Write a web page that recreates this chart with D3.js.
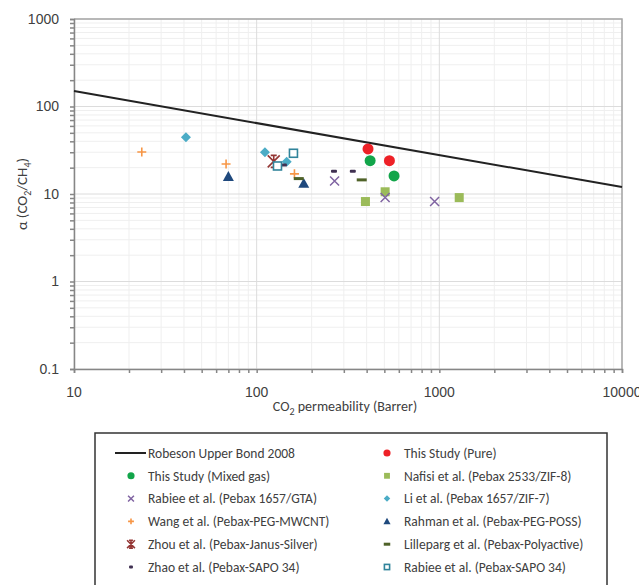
<!DOCTYPE html>
<html>
<head>
<meta charset="utf-8">
<script src="https://cdn.jsdelivr.net/npm/d3@7"></script>
<style>
  body { margin: 0; background: #fff; }
  svg { font-family: Calibri, Carlito, "Open Sans", sans-serif; }
</style>
</head>
<body>
<svg id="chart" width="639" height="585"></svg>
<script>
// axis tick values
const xTicks = [10, 100, 1000, 10000]
const yTicks = [0.1, 1, 10, 100, 1000]

// Robeson upper bound 2008, endpoints
const robeson = [[10, 150], [10000, 12]]

// [CO2 permeability, selectivity]
const thisPure = [[407, 32.7], [533, 24]]
const thisMixed = [[418, 24], [565, 16.1]]
const nafisi = [[394, 8.2], [505, 10.6], [1285, 9.1]]
const rabieeGTA = [[267, 14.1], [505, 9.1], [942, 8.2]]
const liZIF7 = [[41, 44.5], [111, 30], [146, 23.4]]
const wang = [[23.5, 30.2], [68, 22], [161, 17]]
const rahman = [[70, 15.8], [181, 13.2]]
const zhou = [[124, 23.6]]
const lilleparg = [[170, 15], [376, 14.5]]
const zhao = [[141, 21.4], [265, 18.2], [336, 18.2]]
const rabieeSAPO = [[130, 20.9], [159, 29.2]]

const series = [
    { name: 'This Study (Pure)', data: thisPure, sym: 'circle', color: '#ee2127' },
    { name: 'This Study (Mixed gas)', data: thisMixed, sym: 'circle', color: '#12a54a' },
    { name: 'Nafisi et al. (Pebax 2533/ZIF-8)', data: nafisi, sym: 'square', color: '#9bbb59' },
    { name: 'Rabiee et al. (Pebax 1657/GTA)', data: rabieeGTA, sym: 'x', color: '#8064a2' },
    { name: 'Li et al. (Pebax 1657/ZIF-7)', data: liZIF7, sym: 'diamond', color: '#4bacc6' },
    { name: 'Wang et al. (Pebax-PEG-MWCNT)', data: wang, sym: 'plus', color: '#f79646' },
    { name: 'Rahman et al. (Pebax-PEG-POSS)', data: rahman, sym: 'triangle', color: '#1f497d' },
    { name: 'Zhou et al. (Pebax-Janus-Silver)', data: zhou, sym: 'star', color: '#943634' },
    { name: 'Lilleparg et al. (Pebax-Polyactive)', data: lilleparg, sym: 'longdash', color: '#4f6228' },
    { name: 'Zhao et al. (Pebax-SAPO 34)', data: zhao, sym: 'dash', color: '#403152' },
    { name: 'Rabiee et al. (Pebax-SAPO 34)', data: rabieeSAPO, sym: 'open', color: '#31849b' }
]

// legend order, two columns
const legendLeft = ['Robeson Upper Bond 2008', 'This Study (Mixed gas)', 'Rabiee et al. (Pebax 1657/GTA)',
    'Wang et al. (Pebax-PEG-MWCNT)', 'Zhou et al. (Pebax-Janus-Silver)', 'Zhao et al. (Pebax-SAPO 34)']
const legendRight = ['This Study (Pure)', 'Nafisi et al. (Pebax 2533/ZIF-8)', 'Li et al. (Pebax 1657/ZIF-7)',
    'Rahman et al. (Pebax-PEG-POSS)', 'Lilleparg et al. (Pebax-Polyactive)', 'Rabiee et al. (Pebax-SAPO 34)']

const svg = d3.select('#chart')
const margin = { top: 19, left: 74, right: 17, bottom: 216 }
const width = +svg.attr('width') - margin.left - margin.right
const height = +svg.attr('height') - margin.top - margin.bottom

const g = svg.append('g').attr('transform', `translate(${margin.left},${margin.top})`)

const x = d3.scaleLog().domain([10, 10000]).range([0, width])
const y = d3.scaleLog().domain([0.1, 1000]).range([height, 0])

const minorX = x.ticks().filter(t => !xTicks.includes(t))
const minorY = y.ticks().filter(t => !yTicks.includes(t))

// grid
g.append('g').selectAll('line').data(minorX).join('line')
    .attr('x1', d => x(d)).attr('x2', d => x(d)).attr('y1', 0).attr('y2', height)
    .attr('stroke', '#efefef')
g.append('g').selectAll('line').data(minorY).join('line')
    .attr('y1', d => y(d)).attr('y2', d => y(d)).attr('x1', 0).attr('x2', width)
    .attr('stroke', '#efefef')
g.append('g').selectAll('line').data(xTicks).join('line')
    .attr('x1', d => x(d)).attr('x2', d => x(d)).attr('y1', 0).attr('y2', height)
    .attr('stroke', '#dcdcdc')
g.append('g').selectAll('line').data(yTicks).join('line')
    .attr('y1', d => y(d)).attr('y2', d => y(d)).attr('x1', 0).attr('x2', width)
    .attr('stroke', '#dcdcdc')

// frame top / right
g.append('path')
    .attr('d', `M0,0H${width}V${height}`)
    .attr('fill', 'none').attr('stroke', '#a6a6a6').attr('stroke-width', 1.5)

// bottom axis (x)
const xAxis = g.append('g').attr('transform', `translate(0,${height})`)
xAxis.call(d3.axisBottom(x).tickValues(x.ticks()).tickSize(4).tickFormat(''))
xAxis.append('g').selectAll('text').data(xTicks).join('text')
    .attr('x', d => x(d)).attr('y', 28)
    .attr('text-anchor', 'middle').attr('font-size', 14).attr('fill', '#404040')
    .text(d => d)

// left axis (y)
const yAxis = g.append('g')
yAxis.call(d3.axisLeft(y).tickValues(y.ticks()).tickSize(4).tickFormat(''))
yAxis.append('g').selectAll('text').data(yTicks).join('text')
    .attr('x', -15).attr('y', d => y(d)).attr('dy', '0.35em')
    .attr('text-anchor', 'end').attr('font-size', 14).attr('fill', '#404040')
    .text(d => d)

svg.selectAll('.domain, .tick line').attr('stroke', '#868686').attr('stroke-width', 1.5)

// axis titles
svg.append('text')
    .attr('x', margin.left + width / 2 - 3).attr('y', 411)
    .attr('text-anchor', 'middle').attr('font-size', 14).attr('fill', '#404040')
    .html('CO<tspan dy="4" font-size="10">2</tspan><tspan dy="-4"> permeability (Barrer)</tspan>')
svg.append('text')
    .attr('transform', `translate(27,${margin.top + height / 2}) rotate(-90)`)
    .attr('text-anchor', 'middle').attr('font-size', 15).attr('fill', '#404040')
    .html('α (CO<tspan dy="4" font-size="10">2</tspan><tspan dy="-4">/CH</tspan><tspan dy="4" font-size="10">4</tspan><tspan dy="-4">)</tspan>')

// robeson line
g.append('path')
    .datum(robeson)
    .attr('fill', 'none').attr('stroke', '#222').attr('stroke-width', 2)
    .attr('d', d3.line().x(d => x(d[0])).y(d => y(d[1])))

// draw one marker at 0,0 with scale k
function marker(sel, s, k) {
    const c = s.color
    if (s.sym === 'circle') {
        sel.append('circle').attr('r', 5.5 * k).attr('fill', c)
    } else if (s.sym === 'square') {
        sel.append('rect').attr('x', -4.5 * k).attr('y', -4.5 * k)
            .attr('width', 9 * k).attr('height', 9 * k).attr('fill', c)
    } else if (s.sym === 'open') {
        sel.append('rect').attr('x', -4 * k).attr('y', -4 * k)
            .attr('width', 8 * k).attr('height', 8 * k)
            .attr('fill', '#fff').attr('stroke', c).attr('stroke-width', 1.6)
    } else if (s.sym === 'diamond') {
        const r = 5 * k
        sel.append('path').attr('d', `M0,${-r}L${r},0L0,${r}L${-r},0Z`).attr('fill', c)
    } else if (s.sym === 'triangle') {
        const r = 5.5 * k
        sel.append('path').attr('d', `M0,${-r}L${r},${r * 0.8}L${-r},${r * 0.8}Z`).attr('fill', c)
    } else if (s.sym === 'x') {
        const r = 4.5 * k
        sel.append('path').attr('d', `M${-r},${-r}L${r},${r}M${-r},${r}L${r},${-r}`)
            .attr('stroke', c).attr('stroke-width', 1.5)
    } else if (s.sym === 'plus') {
        const r = 4.5 * k
        sel.append('path').attr('d', `M${-r},0H${r}M0,${-r}V${r}`)
            .attr('stroke', c).attr('stroke-width', 1.6)
    } else if (s.sym === 'star') {
        const r = 6 * k
        sel.append('path')
            .attr('d', `M${-r},${-r}L${r},${r}M${-r},${r}L${r},${-r}M0,${-r}V${r}M${-r * 0.5},${-r}H${r * 0.5}M${-r * 0.5},${r}H${r * 0.5}`)
            .attr('stroke', c).attr('stroke-width', 1.6)
    } else if (s.sym === 'dash') {
        sel.append('rect').attr('x', -3 * k).attr('y', -1.5).attr('width', 6 * k).attr('height', 3)
            .attr('rx', 1).attr('fill', c)
    } else if (s.sym === 'longdash') {
        sel.append('rect').attr('x', -5 * k).attr('y', -1.5).attr('width', 10 * k).attr('height', 3)
            .attr('fill', c)
    }
}

// points
series.forEach(s => {
    g.append('g').selectAll('g').data(s.data).join('g')
        .attr('transform', d => `translate(${x(d[0])},${y(d[1])})`)
        .each(function () { marker(d3.select(this), s, 1) })
})

// legend
const lg = svg.append('g')
lg.append('rect')
    .attr('x', 95).attr('y', 433).attr('width', 512).attr('height', 170)
    .attr('fill', '#fff').attr('stroke', '#333').attr('stroke-width', 1.5)

const rowY = i => 453 + i * 22.8
const addItem = (name, i, sx, tx) => {
    const row = lg.append('g')
    if (name === 'Robeson Upper Bond 2008') {
        row.append('line').attr('x1', sx - 16).attr('x2', tx - 2)
            .attr('y1', rowY(i)).attr('y2', rowY(i))
            .attr('stroke', '#222').attr('stroke-width', 2)
    } else {
        const s = series.find(d => d.name === name)
        const m = row.append('g').attr('transform', `translate(${sx},${rowY(i)})`)
        marker(m, s, 0.65)
    }
    row.append('text').attr('x', tx).attr('y', rowY(i)).attr('dy', '0.35em')
        .attr('font-size', 13.5).attr('fill', '#404040').text(name)
}
legendLeft.forEach((n, i) => addItem(n, i, 131, 148))
legendRight.forEach((n, i) => addItem(n, i, 387, 404))
</script>
</body>
</html>
